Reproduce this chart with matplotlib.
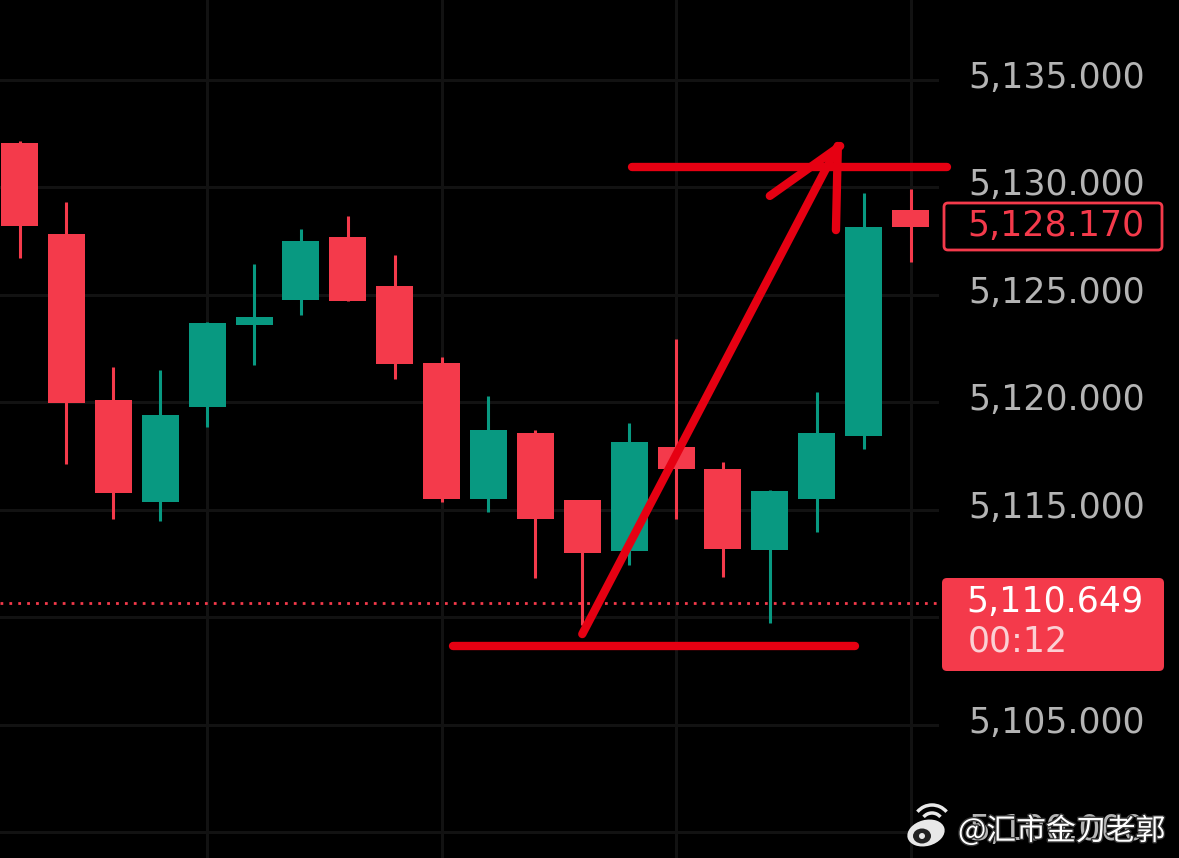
import matplotlib
matplotlib.use("Agg")
import matplotlib.pyplot as plt
import matplotlib.patheffects as pe
from matplotlib.patches import FancyBboxPatch, Ellipse, Arc
from matplotlib.transforms import ScaledTranslation

opens  = [5132.06,5127.83,5120.11,5115.36,5119.78,5123.60,5124.76,5127.69,5125.41,5121.83,5115.50,5118.57,5115.46,5113.08,5117.92,5116.90,5113.13,5115.50,5118.43,5128.95]
closes = [5128.20,5119.97,5115.78,5119.41,5123.69,5123.97,5127.50,5124.71,5121.78,5115.50,5118.71,5114.57,5112.99,5118.15,5116.90,5113.18,5115.87,5118.57,5128.15,5128.15]
highs  = [5132.15,5129.32,5121.64,5121.50,5123.73,5126.43,5128.06,5128.67,5126.85,5122.11,5120.29,5118.71,5115.46,5119.04,5122.94,5117.22,5115.92,5120.48,5129.73,5129.92]
lows   = [5126.71,5117.13,5114.57,5114.48,5118.85,5121.73,5124.06,5124.71,5121.08,5115.36,5114.90,5111.83,5109.64,5112.43,5114.57,5111.88,5109.74,5113.97,5117.83,5126.53]
rising = [0,0,0,1,1,1,1,0,0,0,1,0,0,1,0,0,1,1,1,0]
yticks = [5100,5105,5110,5115,5120,5125,5130,5135]
hidden_tick = 5110
vgrid = [4,9,14,19]
current_price = 5110.649
last_close = 5128.170
countdown = "00:12"
watermark = "@汇市金刀老郭"
# hand-drawn annotations: (candle index, price) pairs
ann_top = ([13.06,19.78],[5130.94,5130.94])
ann_bottom = ([9.24,17.82],[5108.67,5108.67])
ann_shaft = ([12.00,17.45],[5109.22,5131.92])
ann_head_l = ([16.00,17.50],[5129.60,5131.92])
ann_head_r = ([17.41,17.45],[5128.01,5131.92])

RED="#f43a4b"; GREEN="#089981"; GRID="#121212"; INK="#e60012"; LABEL="#b4b4b4"
W,H=1179,858
X0,DX=19.6,46.89
FS=25
plt.rcParams['font.family']=['DejaVu Sans']
fig=plt.figure(figsize=(W/100,H/100),dpi=100,facecolor='black')
ax=fig.add_axes([0,0,939/W,1],facecolor='black')
ax.set_xlim(-X0/DX,(939-X0)/DX)
ax.set_ylim(5130-(858-187.3)/21.5,5130+187.3/21.5)
for s in ax.spines.values(): s.set_visible(False)
ax.set_xticks([])
ax.yaxis.tick_right()
ax.set_yticks(yticks)
ax.set_yticklabels(["" if v==hidden_tick else f"{v:,.3f}" for v in yticks],fontsize=FS,color=LABEL,ha='left',va='center')
ax.tick_params(axis='y',length=0,pad=21)
shift=ScaledTranslation(0,2/100,fig.dpi_scale_trans)
for t in ax.get_yticklabels():
    t.set_transform(t.get_transform()+shift)
for v in yticks: ax.axhline(v,color=GRID,lw=2.2,zorder=1)
for v in vgrid: ax.axvline(v,color=GRID,lw=2.2,zorder=1)
ax.axhline(current_price,color=RED,lw=2,ls=(0,(1,2.2)),zorder=2)

for i,(o,c,h,l,r) in enumerate(zip(opens,closes,highs,lows,rising)):
    col=GREEN if r else RED
    ax.vlines(i,l,h,color=col,lw=2.2,zorder=3)
    ax.bar(i,abs(o-c),bottom=min(o,c),width=37/DX,color=col,zorder=4,linewidth=0)

for xs,ys in (ann_top,ann_bottom,ann_shaft,ann_head_l,ann_head_r):
    ax.plot(xs,ys,color=INK,lw=6,solid_capstyle='round',clip_on=False,zorder=8)

ov=fig.add_axes([0,0,1,1],facecolor='none')
ov.set_xlim(0,W); ov.set_ylim(H,0); ov.axis('off')
ov.add_patch(FancyBboxPatch((944,203),218,47,boxstyle="round,pad=0,rounding_size=4",fc='black',ec=RED,lw=2))
ov.text(1144,226,f"{last_close:,.3f}",color=RED,fontsize=FS,ha='right',va='center')
ov.add_patch(FancyBboxPatch((942,578),222,93,boxstyle="round,pad=0,rounding_size=5",fc=RED,ec='none'))
ov.text(1144,602,f"{current_price:,.3f}",color='white',fontsize=FS,ha='right',va='center')
ov.text(968,642,countdown,color='#fbd0d4',fontsize=FS,ha='left',va='center')

# watermark
ov.add_patch(Ellipse((926,833),38,26,angle=-15,fc='#e8e8e8',ec='none',zorder=9))
ov.add_patch(Ellipse((922,836),18,15,fc='#222222',ec='none',zorder=9))
ov.add_patch(Ellipse((922,836),6,6,fc='#e8e8e8',ec='none',zorder=9))
for d in (22,38):
    ov.add_patch(Arc((932,824),d,d,theta1=-80,theta2=20,angle=-60,color='#e8e8e8',lw=2.5,zorder=9))
ov.text(958,831,watermark,color='white',fontsize=21.5,ha='left',va='center',zorder=9,
        family=['Noto Sans CJK SC','DejaVu Sans'],fontweight='light',
        path_effects=[pe.withStroke(linewidth=2,foreground='#333333')])
fig.savefig('out.png',dpi=100,facecolor='black')
